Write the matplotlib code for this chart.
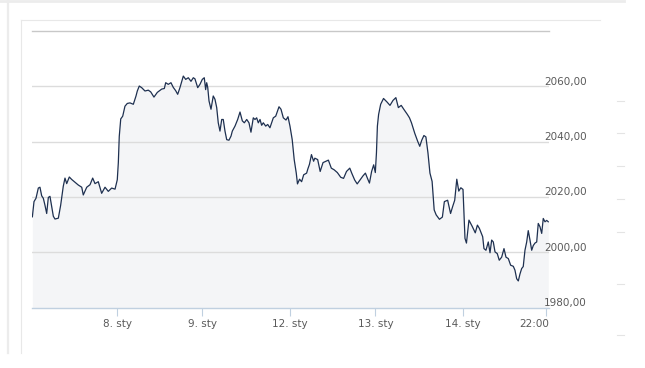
#!/usr/bin/env python3
"""Intraday price line (area) chart, 7-14 Jan, Polish date labels."""

import matplotlib
matplotlib.use("Agg")
import matplotlib.pyplot as plt
from matplotlib.lines import Line2D
from matplotlib.transforms import ScaledTranslation

# time axis: trading sessions since the first open (1.0 = one session)
t = [
    0.010, 0.029, 0.052, 0.079, 0.098, 0.118, 0.137, 0.156, 0.176, 0.195,
    0.214, 0.234, 0.253, 0.272, 0.311, 0.338, 0.368, 0.388, 0.408, 0.438,
    0.466, 0.504, 0.542, 0.582, 0.600, 0.640, 0.678, 0.709, 0.736, 0.774,
    0.813, 0.852, 0.890, 0.929, 0.968, 0.994, 1.006, 1.017, 1.034, 1.057,
    1.083, 1.110, 1.141, 1.180, 1.211, 1.226, 1.249, 1.277, 1.315, 1.353,
    1.381, 1.419, 1.458, 1.509, 1.539, 1.555, 1.585, 1.616, 1.643, 1.671,
    1.694, 1.721, 1.759, 1.787, 1.817, 1.848, 1.875, 1.894, 1.926, 1.952,
    1.979, 2.002, 2.018, 2.030, 2.042, 2.057, 2.080, 2.106, 2.126, 2.146,
    2.164, 2.184, 2.204, 2.222, 2.242, 2.262, 2.288, 2.312, 2.327, 2.358,
    2.389, 2.416, 2.443, 2.466, 2.494, 2.520, 2.543, 2.570, 2.590, 2.609,
    2.628, 2.648, 2.667, 2.686, 2.714, 2.737, 2.763, 2.783, 2.802, 2.830,
    2.868, 2.891, 2.918, 2.949, 2.972, 2.995, 3.021, 3.044, 3.068, 3.082,
    3.106, 3.130, 3.154, 3.188, 3.202, 3.221, 3.244, 3.269, 3.283, 3.316,
    3.345, 3.378, 3.412, 3.440, 3.474, 3.507, 3.544, 3.583, 3.616, 3.650,
    3.688, 3.712, 3.745, 3.774, 3.807, 3.841, 3.869, 3.893, 3.916, 3.941,
    3.965, 3.984, 3.997, 4.008, 4.022, 4.046, 4.079, 4.117, 4.154, 4.189,
    4.222, 4.251, 4.284, 4.316, 4.356, 4.380, 4.403, 4.441, 4.475, 4.499,
    4.522, 4.547, 4.570, 4.594, 4.617, 4.642, 4.666, 4.689, 4.727, 4.761,
    4.784, 4.822, 4.856, 4.880, 4.904, 4.928, 4.951, 4.975, 5.000, 5.023,
    5.040, 5.069, 5.109, 5.142, 5.167, 5.190, 5.228, 5.243, 5.266, 5.293,
    5.313, 5.332, 5.351, 5.371, 5.397, 5.420, 5.448, 5.475, 5.498, 5.525,
    5.552, 5.583, 5.602, 5.622, 5.641, 5.660, 5.680, 5.698, 5.718, 5.738,
    5.756, 5.776, 5.796, 5.814, 5.834, 5.854, 5.872, 5.892, 5.912, 5.930,
    5.950, 5.970, 5.988,
]

price = [
    2012.8, 2018.3, 2019.5, 2023.2, 2023.5, 2020.4, 2019.5, 2017.0, 2014.0, 2019.8,
    2020.2, 2016.5, 2013.0, 2012.0, 2012.3, 2017.0, 2023.8, 2026.8, 2024.8, 2027.2,
    2026.3, 2025.3, 2024.3, 2023.5, 2020.7, 2023.5, 2024.4, 2026.8, 2024.8, 2025.5,
    2021.3, 2023.5, 2022.0, 2023.2, 2022.8, 2026.2, 2032.3, 2041.9, 2048.2, 2049.2,
    2052.8, 2053.8, 2054.0, 2053.5, 2056.5, 2058.3, 2060.1, 2059.5, 2058.3, 2058.6,
    2058.0, 2056.1, 2057.8, 2059.0, 2059.2, 2061.3, 2060.7, 2061.3, 2059.6, 2058.4,
    2057.1, 2059.6, 2063.7, 2062.5, 2063.1, 2061.8, 2063.1, 2062.7, 2059.5, 2060.7,
    2062.5, 2063.1, 2058.8, 2061.3, 2059.6, 2054.7, 2051.7, 2056.5, 2055.3, 2052.3,
    2046.8, 2043.8, 2048.0, 2048.0, 2043.8, 2040.7, 2040.5, 2042.0, 2043.8, 2045.6,
    2048.0, 2050.7, 2047.5, 2046.8, 2048.0, 2046.8, 2043.4, 2048.6, 2048.0, 2048.6,
    2046.8, 2048.0, 2045.9, 2046.8, 2045.6, 2046.2, 2045.0, 2046.8, 2048.6, 2049.2,
    2052.6, 2051.7, 2048.6, 2047.8, 2049.0, 2045.6, 2040.7, 2033.5, 2028.6, 2024.7,
    2026.4, 2025.5, 2028.0, 2028.6, 2030.1, 2031.8, 2035.3, 2032.9, 2034.0, 2033.5,
    2029.2, 2032.4, 2032.9, 2033.3, 2030.4, 2029.8, 2028.8, 2027.1, 2026.7, 2029.2,
    2030.4, 2028.5, 2026.1, 2024.7, 2026.1, 2027.6, 2028.6, 2026.7, 2025.0, 2029.2,
    2031.6, 2028.8, 2035.9, 2045.6, 2049.8, 2053.5, 2055.6, 2054.4, 2053.1, 2054.9,
    2055.9, 2052.3, 2053.1, 2051.6, 2049.8, 2048.6, 2046.8, 2043.0, 2040.1, 2038.3,
    2040.5, 2042.2, 2041.7, 2035.9, 2028.6, 2025.6, 2015.3, 2013.5, 2011.9, 2012.7,
    2018.3, 2018.8, 2014.0, 2016.5, 2018.8, 2026.4, 2022.1, 2023.3, 2022.7, 2005.0,
    2003.3, 2011.6, 2009.2, 2007.0, 2009.8, 2008.6, 2005.6, 2001.3, 2000.7, 2003.7,
    1999.8, 2004.4, 2003.7, 2000.1, 1999.5, 1997.1, 1998.2, 2001.3, 1998.2, 1997.7,
    1995.3, 1994.9, 1993.5, 1990.4, 1989.6, 1992.1, 1994.1, 1994.8, 2000.7, 2003.7,
    2007.8, 2004.4, 2000.7, 2002.4, 2003.3, 2003.7, 2010.4, 2009.2, 2006.8, 2012.2,
    2011.0, 2011.5, 2011.0,
]

x_tick_pos = [0.994, 1.981, 2.996, 3.984, 4.995, 5.967]
x_tick_labels = ["8. sty", "9. sty", "12. sty", "13. sty", "14. sty", "22:00"]
y_grid = [2000, 2020, 2040, 2060]
y_top = 2080
y_label_vals = [1980, 2000, 2020, 2040, 2060]
y_label_text = ["1980,00", "2000,00", "2020,00", "2040,00", "2060,00"]

W, H = 645, 368
LINE = "#1e3050"
FILL = "#f4f5f7"
GRID = "#dcdcdc"
AXIS = "#c0d0e0"
TEXT = "#5a5a5a"


def px(x, y):
    return x / W, 1 - y / H


fig = plt.figure(figsize=(W / 100, H / 100), dpi=100)
fig.patch.set_facecolor("white")

# page frame around the widget
frame = [
    ((0, 1), (624, 1), "#ececec", 2.0),
    ((8, 0), (8, 353), "#ececec", 1.6),
    ((21, 20), (600, 20), "#e8e8e8", 0.8),
    ((21, 20), (21, 353), "#e8e8e8", 0.8),
]
for a, b, c, lw in frame:
    (x0, y0), (x1, y1) = px(*a), px(*b)
    fig.add_artist(Line2D([x0, x1], [y0, y1], transform=fig.transFigure,
                          color=c, linewidth=lw))
for yy in [101, 133, 166, 199, 232, 284, 335]:
    (x0, y0), (x1, y1) = px(617, yy), px(624, yy)
    fig.add_artist(Line2D([x0, x1], [y0, y1], transform=fig.transFigure,
                          color="#e4e4e4", linewidth=0.8))

left, bottom = px(31.5, 307.5)
_, top = px(0, 31)
ax = fig.add_axes([left, bottom, 517.8 / W, top - bottom])
ax.set_xlim(0, 6)
ax.set_ylim(1980, y_top)
ax.set_facecolor("none")

ax.fill_between(t, price, 1980, color=FILL, linewidth=0, zorder=1)
for g in y_grid:
    ax.axhline(g, color=GRID, linewidth=1.0, zorder=2)
ax.axhline(y_top, color="#c8c8c8", linewidth=1.0, zorder=2, clip_on=False)
ax.plot(t, price, color=LINE, linewidth=0.9, zorder=3)

for s in ["top", "right", "left"]:
    ax.spines[s].set_visible(False)
ax.spines["bottom"].set_color(AXIS)
ax.spines["bottom"].set_linewidth(1.0)
ax.spines["bottom"].set_zorder(4)

ax.set_yticks([])
ax.set_xticks(x_tick_pos)
ax.set_xticklabels(x_tick_labels, fontsize=7.5, color=TEXT)
ax.tick_params(axis="x", direction="out", length=5.5, width=0.8,
               color=AXIS, pad=3)
last = ax.get_xticklabels()[-1]
last.set_horizontalalignment("right")
last.set_transform(last.get_transform()
                   + ScaledTranslation(3 / 100, 0, fig.dpi_scale_trans))

for v, s in zip(y_label_vals, y_label_text):
    ax.text(0.9898, v + 0.6, s, transform=ax.get_yaxis_transform(),
            ha="left", va="baseline", fontsize=7.5, color=TEXT,
            clip_on=False, zorder=5)

fig.savefig("out.png", dpi=100)
